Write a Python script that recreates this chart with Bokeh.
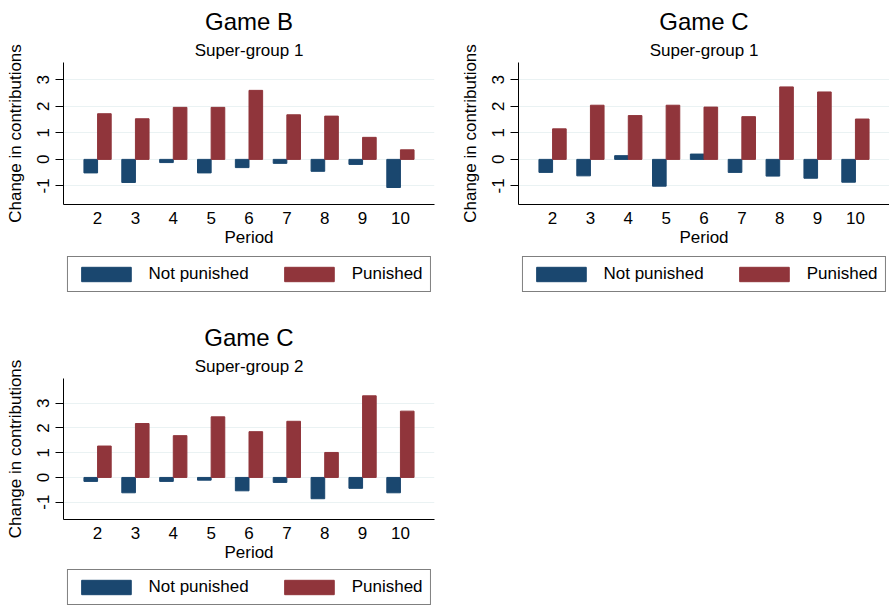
from bokeh.plotting import figure
from bokeh.models import Range1d, FixedTicker, Legend, LegendItem, Title, ColumnDataSource
from bokeh.transform import dodge
from bokeh.layouts import column, row
from bokeh.embed import file_html
from bokeh.resources import INLINE

periods = [2, 3, 4, 5, 6, 7, 8, 9, 10]
y_ticks = [-1, 0, 1, 2, 3]
y_tick_labels = ["-1", "0", "1", "2", "3"]

gameB_sg1_not = [-0.51, -0.87, -0.12, -0.51, -0.31, -0.15, -0.45, -0.19, -1.06]
gameB_sg1_pun = [1.72, 1.53, 1.96, 1.96, 2.60, 1.68, 1.63, 0.83, 0.36]
gameC_sg1_not = [-0.49, -0.62, 0.14, -1.01, 0.20, -0.49, -0.63, -0.71, -0.86]
gameC_sg1_pun = [1.15, 2.04, 1.65, 2.04, 1.97, 1.61, 2.73, 2.54, 1.52]
gameC_sg2_not = [-0.16, -0.62, -0.16, -0.11, -0.54, -0.20, -0.86, -0.44, -0.62]
gameC_sg2_pun = [1.27, 2.18, 1.69, 2.45, 1.85, 2.27, 1.01, 3.30, 2.68]

BLUE = "#1a476f"
RED = "#90353b"
GRID = "#eaf2f3"
FONT = "Liberation Sans"


def make_panel(title, subtitle, not_vals, pun_vals, ymax, width, height,
               bl, br, bt, bb, leg_height):
    src = ColumnDataSource(dict(period=periods, notp=not_vals, pun=pun_vals))
    p = figure(width=width, height=height, output_backend="svg",
               toolbar_location=None, title=None,
               x_range=Range1d(1.1, 10.9), y_range=Range1d(-1.7, ymax),
               min_border_left=bl, min_border_right=br,
               min_border_top=bt, min_border_bottom=bb)
    p.add_layout(Title(text=subtitle, text_font=FONT, text_font_size="17px",
                       text_font_style="normal", align="center",
                       text_color="black", standoff=5), "above")
    p.add_layout(Title(text=title, text_font=FONT, text_font_size="24px",
                       text_font_style="normal", align="center",
                       text_color="black", standoff=4), "above")
    p.vbar(x=dodge("period", -0.18, range=p.x_range), top="notp", bottom=0,
           width=0.36, source=src, fill_color=BLUE, line_color=BLUE)
    p.vbar(x=dodge("period", 0.18, range=p.x_range), top="pun", bottom=0,
           width=0.36, source=src, fill_color=RED, line_color=RED)
    p.outline_line_color = None
    p.background_fill_color = "white"
    p.border_fill_color = "white"
    p.xgrid.grid_line_color = None
    p.ygrid.grid_line_color = GRID
    p.ygrid.ticker = FixedTicker(ticks=y_ticks)

    p.xaxis.ticker = FixedTicker(ticks=periods)
    p.xaxis.major_tick_out = 0
    p.xaxis.major_tick_in = 0
    p.xaxis.minor_tick_line_color = None
    p.xaxis.axis_label = "Period"
    p.xaxis.axis_label_standoff = 1
    p.xaxis.major_label_standoff = 7

    p.yaxis.ticker = FixedTicker(ticks=y_ticks)
    p.yaxis.major_label_overrides = {t: s for t, s in zip(y_ticks, y_tick_labels)}
    p.yaxis.major_tick_out = 8
    p.yaxis.major_tick_in = 0
    p.yaxis.minor_tick_line_color = None
    p.yaxis.major_label_orientation = "vertical"
    p.yaxis.axis_label = "Change in contributions"
    p.yaxis.axis_label_standoff = 10
    p.yaxis.major_label_standoff = 6

    for ax in (p.xaxis, p.yaxis):
        ax.axis_line_color = "black"
        ax.major_label_text_font = FONT
        ax.major_label_text_font_size = "17px"
        ax.major_label_text_color = "black"
        ax.axis_label_text_font = FONT
        ax.axis_label_text_font_size = "17px"
        ax.axis_label_text_font_style = "normal"
        ax.axis_label_text_color = "black"
    p.xaxis.major_tick_line_color = None
    p.yaxis.major_tick_line_color = "black"

    # legend row, drawn in its own small figure aligned with the plot frame
    lf = figure(width=width, height=leg_height, output_backend="svg",
                toolbar_location=None, x_range=Range1d(0, 1), y_range=Range1d(0, 1),
                min_border_left=bl, min_border_right=br,
                min_border_top=0, min_border_bottom=0)
    lf.axis.visible = False
    lf.grid.visible = False
    lf.outline_line_color = None
    lf.background_fill_color = "white"
    lf.border_fill_color = "white"
    # hidden renderers: only their legend swatches are shown
    r1 = lf.vbar(x="period", top="notp", width=0.36, source=src,
                 fill_color=BLUE, line_color=BLUE, visible=False)
    r2 = lf.vbar(x="period", top="pun", width=0.36, source=src,
                 fill_color=RED, line_color=RED, visible=False)
    legend = Legend(items=[LegendItem(label="Not punished", renderers=[r1]),
                           LegendItem(label="Punished", renderers=[r2])],
                    orientation="horizontal", location="bottom_center",
                    glyph_width=62, glyph_height=18, label_height=18,
                    label_standoff=12, spacing=29, padding=7, margin=0,
                    label_text_font=FONT, label_text_font_size="17px",
                    label_text_color="black",
                    inactive_fill_alpha=0.0,
                    border_line_color="black", border_line_width=1,
                    background_fill_color="white", background_fill_alpha=1)
    lf.add_layout(legend, "center")
    return column(p, lf, spacing=0)


c1 = make_panel("Game B", "Super-group 1", gameB_sg1_not, gameB_sg1_pun, 3.65,
                445, 252, 63, 11, 62, 48, 40)
c2 = make_panel("Game C", "Super-group 1", gameC_sg1_not, gameC_sg1_pun, 3.65,
                444, 252, 73, 0, 62, 48, 40)
c3 = make_panel("Game C", "Super-group 2", gameC_sg2_not, gameC_sg2_pun, 4.0,
                445, 275, 63, 11, 86, 48, 38)

layout = column(row(c1, c2, spacing=0), row(c3, spacing=0), spacing=0)

open("out.html", "w").write(file_html(layout, INLINE))
